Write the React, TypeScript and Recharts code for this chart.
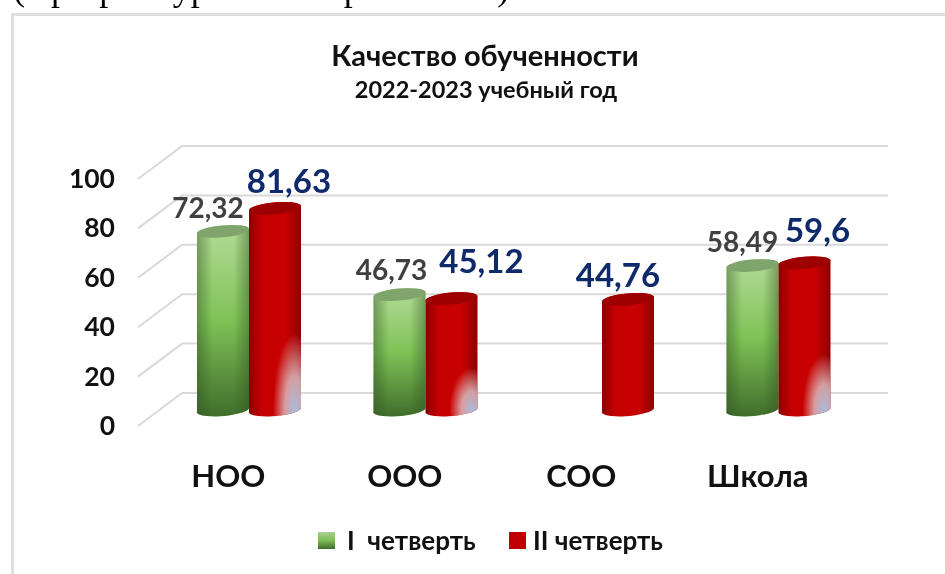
import { BarChart, Bar, XAxis, YAxis, CartesianGrid, Legend, LabelList } from "recharts";

const categories = ["НОО", "ООО", "СОО", "Школа"];
const firstQuarter = [72.32, 46.73, null, 58.49];
const secondQuarter = [81.63, 45.12, 44.76, 59.6];
const yTicks = [0, 20, 40, 60, 80, 100];
const seriesNames = ["I  четверть", "II четверть"];
const noGlare = ["СОО"];

const chartData = categories.map((name, i) => ({
  name,
  first: firstQuarter[i],
  second: secondQuarter[i],
}));

const FONT = "Lato, 'Open Sans', sans-serif";

// label nudges, the original has them hand placed
const firstOffsets = [[-15, -24], [-8, -26], [0, 0], [-10, -25]];
const secondOffsets = [[14, -28], [30, -39], [-10, -25], [13, -34]];

function Cylinder(props: any) {
  const { x, y, width, height, kind, payload } = props;
  if (height == null || height <= 0) return null;
  const rx = width / 2;
  const ry = 6;
  const bottom = y + height;
  const tilt = 1.5;
  const side = `M${x},${y + tilt} A${rx},${ry} -5 0 1 ${x + width},${y - tilt} L${x + width},${bottom - tilt} A${rx},${ry} -5 0 1 ${x},${bottom + tilt} Z`;
  const cx = x + rx;
  if (kind === "green") {
    return (
      <g>
        <path d={side} fill="url(#greenBody)" />
        <path d={side} fill="url(#greenEdge)" />
        <ellipse cx={cx} cy={y} rx={rx} ry={ry} transform={`rotate(-5 ${cx} ${y})`} fill="#7fa56c" />
      </g>
    );
  }
  const clipId = `redClip-${payload.name}`;
  return (
    <g>
      <clipPath id={clipId}>
        <path d={side} />
      </clipPath>
      <path d={side} fill="url(#redBody)" />
      {noGlare.includes(payload.name) ? null : (
        <ellipse cx={x + width * 0.88} cy={bottom} rx={width * 0.42} ry={height * 0.38} fill="url(#glare)" clipPath={`url(#${clipId})`} />
      )}
      <ellipse cx={cx} cy={y} rx={rx} ry={ry} transform={`rotate(-5 ${cx} ${y})`} fill="#9c0000" />
    </g>
  );
}

function makeLabel(values: (number | null)[], offsets: number[][], fill: string, size: number) {
  return function BarLabel(props: any) {
    const { x, y, width, value } = props;
    if (value == null) return null;
    const [dx, dy] = offsets[values.indexOf(value)];
    return (
      <text x={x + width / 2 + dx} y={y + dy} textAnchor="middle" dominantBaseline="central" fill={fill} fontFamily={FONT} fontWeight={700} fontSize={size}>
        {String(value).replace(".", ",")}
      </text>
    );
  };
}

function GridLine(props: any) {
  const { x1, x2, y1 } = props;
  const backY = y1 - 17;
  return (
    <g stroke="#d9d9d9" strokeWidth={2} fill="none">
      <line x1={x1 + 21} y1={backY} x2={x2 + 21} y2={backY} />
      <line x1={x1 - 23} y1={backY + 33} x2={x1 + 21} y2={backY} />
    </g>
  );
}

function YTick(props: any) {
  const { x, y, payload } = props;
  return (
    <text x={x - 38} y={y + 15} textAnchor="end" dominantBaseline="central" fill="#111" fontFamily={FONT} fontWeight={700} fontSize={26.5}>
      {payload.value}
    </text>
  );
}

function XTick(props: any) {
  const { x, payload } = props;
  return (
    <text x={x - 21} y={475} textAnchor="middle" dominantBaseline="central" fill="#111" fontFamily={FONT} fontWeight={700} fontSize={31}>
      {payload.value}
    </text>
  );
}

function LegendBox() {
  return (
    <div style={{ position: "relative", height: 30, fontFamily: FONT, fontWeight: 700, fontSize: 26, color: "#111", whiteSpace: "pre" }}>
      <svg width={17} height={17} style={{ position: "absolute", left: 318, top: 8 }}>
        <rect width={17} height={17} fill="url(#greenBodyLegend)" />
        <defs>
          <linearGradient id="greenBodyLegend" x1="0" y1="0" x2="0" y2="1">
            <stop offset="0" stopColor="#a9d18e" />
            <stop offset="0.5" stopColor="#7cbd55" />
            <stop offset="1" stopColor="#3f6b2c" />
          </linearGradient>
        </defs>
      </svg>
      <span style={{ position: "absolute", left: 347, top: 0 }}>{seriesNames[0]}</span>
      <svg width={17} height={17} style={{ position: "absolute", left: 509, top: 8 }}>
        <rect width={17} height={17} fill="#c00000" />
      </svg>
      <span style={{ position: "absolute", left: 533, top: 0 }}>{seriesNames[1]}</span>
    </div>
  );
}

export default function App() {
  return (
    <div style={{ position: "absolute", left: 0, top: 0, width: 945, height: 574, overflow: "hidden", background: "#fff", filter: "blur(0.4px)" }}>
      <div style={{ position: "absolute", left: 13, top: -33, fontFamily: "'Liberation Serif', serif", fontSize: 36, whiteSpace: "pre", color: "#000" }}>
        (в разрезе уровней образования)
      </div>
      <div style={{ position: "absolute", left: 11, top: 13, width: 960, height: 590, border: "3px solid #dfdfdf", boxSizing: "border-box" }} />
      <div style={{ position: "absolute", left: 0, width: 970, top: 37, textAlign: "center", fontFamily: FONT, fontWeight: 700, fontSize: 29, color: "#111" }}>
        Качество обученности
      </div>
      <div style={{ position: "absolute", left: 0, width: 972, top: 75, textAlign: "center", fontFamily: FONT, fontWeight: 700, fontSize: 23.5, color: "#111" }}>
        2022-2023 учебный год
      </div>
      <BarChart
        width={945}
        height={574}
        data={chartData}
        barSize={52}
        barGap={0}
        margin={{ top: 163, right: 78, bottom: 104, left: 117 }}
        style={{ position: "absolute", left: 0, top: 0 }}
      >
        <defs>
          <linearGradient id="greenBody" x1="0" y1="0" x2="0" y2="1">
            <stop offset="0" stopColor="#b3dc97" />
            <stop offset="0.5" stopColor="#7fc256" />
            <stop offset="1" stopColor="#3f6e2b" />
          </linearGradient>
          <linearGradient id="greenEdge" x1="0" y1="0" x2="1" y2="0">
            <stop offset="0" stopColor="#2f4f20" stopOpacity={0.45} />
            <stop offset="0.3" stopColor="#2f4f20" stopOpacity={0} />
            <stop offset="0.7" stopColor="#2f4f20" stopOpacity={0} />
            <stop offset="1" stopColor="#2f4f20" stopOpacity={0.45} />
          </linearGradient>
          <linearGradient id="redBody" x1="0" y1="0" x2="1" y2="0">
            <stop offset="0" stopColor="#8c0000" />
            <stop offset="0.25" stopColor="#c40000" />
            <stop offset="0.7" stopColor="#c80000" />
            <stop offset="1" stopColor="#900000" />
          </linearGradient>
          <radialGradient id="glare" cx="0.5" cy="0.5" r="0.5">
            <stop offset="0" stopColor="#a9bbdc" stopOpacity={1} />
            <stop offset="0.45" stopColor="#dcc4c8" stopOpacity={0.8} />
            <stop offset="1" stopColor="#e8c8c8" stopOpacity={0} />
          </radialGradient>
        </defs>
        <CartesianGrid vertical={false} horizontal={(p: any) => <GridLine key={p.key} {...p} />} />
        <XAxis dataKey="name" axisLine={false} tickLine={false} tick={<XTick />} height={30} interval={0} />
        <YAxis domain={[0, 100]} ticks={yTicks} axisLine={false} tickLine={false} tick={<YTick />} width={44} />
        <Legend verticalAlign="bottom" content={<LegendBox />} wrapperStyle={{ left: 0, top: 524, width: 945, bottom: "auto" }} />
        <Bar dataKey="first" shape={(p: any) => <Cylinder {...p} kind="green" />} isAnimationActive={false}>
          <LabelList dataKey="first" content={makeLabel(firstQuarter, firstOffsets, "#404040", 28)} />
        </Bar>
        <Bar dataKey="second" shape={(p: any) => <Cylinder {...p} kind="red" />} isAnimationActive={false}>
          <LabelList dataKey="second" content={makeLabel(secondQuarter, secondOffsets, "#0f2a6b", 33)} />
        </Bar>
      </BarChart>
    </div>
  );
}
